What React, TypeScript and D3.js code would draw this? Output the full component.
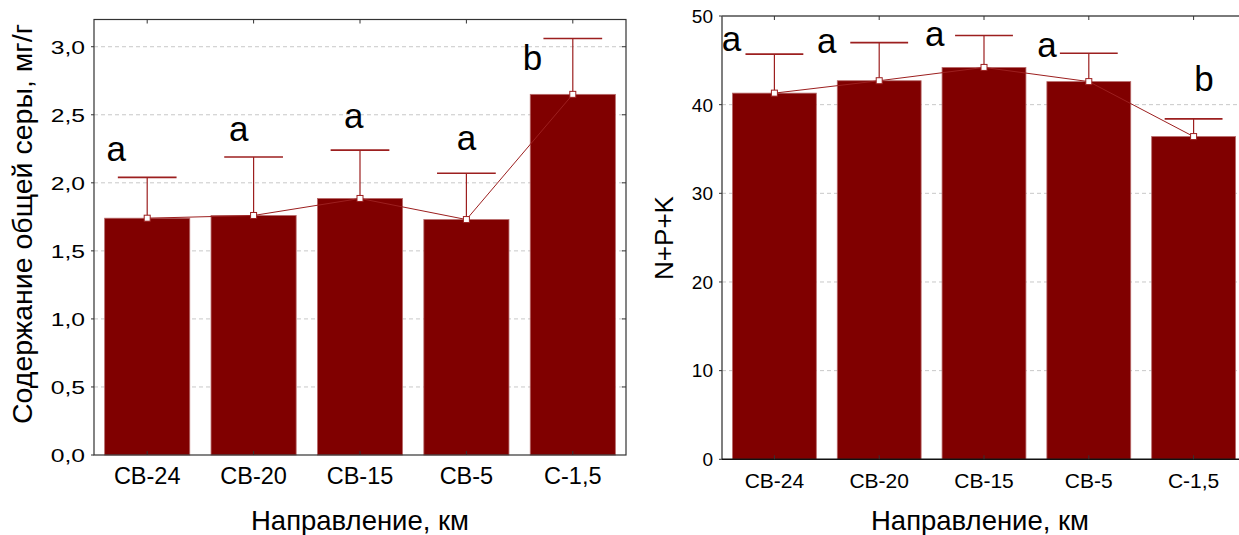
import React, { useEffect, useRef } from "react";
import * as d3 from "d3";

// categories along x (directions, km)
const categories = ["СВ-24", "СВ-20", "СВ-15", "СВ-5", "С-1,5"];

// left panel: total sulphur content, mg/g
const sulfurMean = [1.74, 1.76, 1.885, 1.73, 2.65];
const sulfurUpper = [2.04, 2.19, 2.24, 2.07, 3.06];
const sulfurLetters = ["a", "a", "a", "a", "b"];
const sulfurLetterAt = [2.16, 2.31, 2.4, 2.24, 2.83];
const sulfurLetterShift = [-0.29, -0.14, -0.06, 0, -0.38];
const sulfurTicks = [0, 0.5, 1, 1.5, 2, 2.5, 3];

// right panel: N+P+K
const npkMean = [41.3, 42.7, 44.2, 42.6, 36.4];
const npkUpper = [45.7, 47.0, 47.8, 45.8, 38.4];
const npkLetters = ["a", "a", "a", "a", "b"];
const npkLetterAt = [46.0, 45.8, 46.6, 45.4, 41.5];
const npkLetterShift = [-0.41, -0.5, -0.47, -0.4, 0.1];
const npkTicks = [0, 10, 20, 30, 40, 50];

const FONT = "'Liberation Sans', Arial, sans-serif";
const BAR = "#800000";
const ERR = "#9c1f1f";

type Panel = {
  left: number; right: number; top: number; bottom: number;
  max: number; mean: number[]; upper: number[];
  letters: string[]; letterAt: number[]; letterShift: number[];
  ticks: number[]; fmt: (v: number) => string;
  yTitle: string; yTitleX: number; yTitleY: number; yTitleSize: number;
  tickSize: number; yTickSize: number; yTickStretch: number; boxed: boolean;
};

function drawPanel(svg: d3.Selection<SVGSVGElement, unknown, null, undefined>, p: Panel) {
  const g = svg.append("g");
  const x = d3.scaleBand().domain(categories).range([p.left, p.right])
    .paddingInner(0.2).paddingOuter(0.1);
  const y = d3.scaleLinear().domain([0, p.max]).range([p.bottom, p.top]);
  const cx = (i: number) => (x(categories[i]) as number) + x.bandwidth() / 2;

  // grid
  g.selectAll(".grid").data(p.ticks.filter(t => t > 0 && y(t) > p.top + 2)).join("line")
    .attr("x1", p.left).attr("x2", p.right)
    .attr("y1", d => y(d)).attr("y2", d => y(d))
    .attr("stroke", "#c8c8c8").attr("stroke-dasharray", "4,3").attr("stroke-width", 1);

  // bars
  g.selectAll(".bar").data(p.mean).join("rect")
    .attr("x", (d, i) => x(categories[i]) as number)
    .attr("width", x.bandwidth())
    .attr("y", d => y(d)).attr("height", d => p.bottom - y(d))
    .attr("fill", BAR).attr("stroke", "#b86a6a").attr("stroke-width", 0.8);

  // error bars
  const capW = x.bandwidth() * 0.69;
  g.selectAll(".err").data(p.upper).join("line")
    .attr("x1", (d, i) => cx(i)).attr("x2", (d, i) => cx(i))
    .attr("y1", (d, i) => y(p.mean[i])).attr("y2", d => y(d))
    .attr("stroke", ERR).attr("stroke-width", 1.2);
  g.selectAll(".cap").data(p.upper).join("line")
    .attr("x1", (d, i) => cx(i) - capW / 2).attr("x2", (d, i) => cx(i) + capW / 2)
    .attr("y1", d => y(d)).attr("y2", d => y(d))
    .attr("stroke", ERR).attr("stroke-width", 1.6);

  // mean line + markers
  const line = d3.line<number>().x((d, i) => cx(i)).y(d => y(d));
  g.append("path").attr("d", line(p.mean)).attr("fill", "none")
    .attr("stroke", ERR).attr("stroke-width", 1);
  g.selectAll(".mk").data(p.mean).join("rect")
    .attr("x", (d, i) => cx(i) - 3).attr("y", d => y(d) - 3)
    .attr("width", 6).attr("height", 6)
    .attr("fill", "#fff").attr("stroke", ERR).attr("stroke-width", 1);

  // letters
  g.selectAll(".let").data(p.letters).join("text")
    .attr("x", (d, i) => cx(i) + p.letterShift[i] * x.step())
    .attr("y", (d, i) => y(p.letterAt[i]))
    .attr("text-anchor", "middle").attr("font-family", FONT).attr("font-size", 35)
    .attr("fill", "#000").text(d => d);

  // frame
  if (p.boxed) {
    g.append("rect").attr("x", p.left).attr("y", p.top)
      .attr("width", p.right - p.left).attr("height", p.bottom - p.top)
      .attr("fill", "none").attr("stroke", "#333").attr("stroke-width", 1.2);
    g.selectAll(".rt").data(p.ticks.filter(t => t > 0)).join("line")
      .attr("x1", p.right - 4).attr("x2", p.right)
      .attr("y1", d => y(d)).attr("y2", d => y(d)).attr("stroke", "#333");
  } else {
    g.append("line").attr("x1", p.left).attr("x2", p.right + 20)
      .attr("y1", p.top).attr("y2", p.top).attr("stroke", "#7a7a7a").attr("stroke-width", 2);
    g.append("line").attr("x1", p.left).attr("x2", p.left)
      .attr("y1", p.top).attr("y2", p.bottom).attr("stroke", "#555").attr("stroke-width", 1.5);
    g.append("line").attr("x1", p.left).attr("x2", p.right + 20)
      .attr("y1", p.bottom).attr("y2", p.bottom).attr("stroke", "#111").attr("stroke-width", 1.5);
  }
  // top and bottom ticks at category centres
  g.selectAll(".tt").data(categories).join("line")
    .attr("x1", (d, i) => cx(i)).attr("x2", (d, i) => cx(i))
    .attr("y1", p.top).attr("y2", p.top + 4).attr("stroke", "#333");
  g.selectAll(".bt").data(categories).join("line")
    .attr("x1", (d, i) => cx(i)).attr("x2", (d, i) => cx(i))
    .attr("y1", p.bottom).attr("y2", p.bottom - 4).attr("stroke", "#333");

  // y axis ticks + labels
  g.selectAll(".lt").data(p.ticks).join("line")
    .attr("x1", p.left - 3).attr("x2", p.left)
    .attr("y1", d => y(d)).attr("y2", d => y(d)).attr("stroke", "#333");
  g.selectAll(".yl").data(p.ticks).join("text")
    .attr("transform", d => `translate(${p.left - 9},${y(d)}) scale(${p.yTickStretch},1)`)
    .attr("dy", "0.36em")
    .attr("text-anchor", "end").attr("font-family", FONT).attr("font-size", p.yTickSize)
    .text(d => p.fmt(d));

  // x labels
  g.selectAll(".xl").data(categories).join("text")
    .attr("x", (d, i) => cx(i)).attr("y", p.bottom + 29)
    .attr("text-anchor", "middle").attr("font-family", FONT).attr("font-size", p.tickSize)
    .text(d => d);

  // titles
  g.append("text").attr("x", (p.left + p.right) / 2 - (p.boxed ? 0 : 4)).attr("y", 530)
    .attr("text-anchor", "middle").attr("font-family", FONT).attr("font-size", 27.5)
    .text("Направление, км");
  g.append("text")
    .attr("transform", `translate(${p.yTitleX},${p.yTitleY}) rotate(-90)`)
    .attr("text-anchor", "middle").attr("font-family", FONT).attr("font-size", p.yTitleSize)
    .text(p.yTitle);
}

export default function App() {
  const ref = useRef<SVGSVGElement>(null);
  useEffect(() => {
    const svg = d3.select(ref.current as SVGSVGElement);
    svg.selectAll("*").remove();
    drawPanel(svg, {
      left: 94, right: 626, top: 19.5, bottom: 455, max: 3.2,
      mean: sulfurMean, upper: sulfurUpper,
      letters: sulfurLetters, letterAt: sulfurLetterAt, letterShift: sulfurLetterShift,
      ticks: sulfurTicks, fmt: v => d3.format(".1f")(v).replace(".", ","),
      yTitle: "Содержание общей серы,  мг/г", yTitleX: 32, yTitleY: 224, yTitleSize: 28.5,
      tickSize: 23.5, yTickSize: 19, yTickStretch: 1.3, boxed: true,
    });
    drawPanel(svg, {
      left: 722, right: 1246, top: 16, bottom: 459.3, max: 50,
      mean: npkMean, upper: npkUpper,
      letters: npkLetters, letterAt: npkLetterAt, letterShift: npkLetterShift,
      ticks: npkTicks, fmt: v => String(v),
      yTitle: "N+P+K", yTitleX: 673, yTitleY: 238, yTitleSize: 26,
      tickSize: 21, yTickSize: 19, yTickStretch: 1, boxed: false,
    });
  }, []);
  return (
    <div style={{ position: "absolute", left: 0, top: 0 }}>
      <svg ref={ref} width={1239} height={535} style={{ display: "block", background: "#fff" }} />
    </div>
  );
}
